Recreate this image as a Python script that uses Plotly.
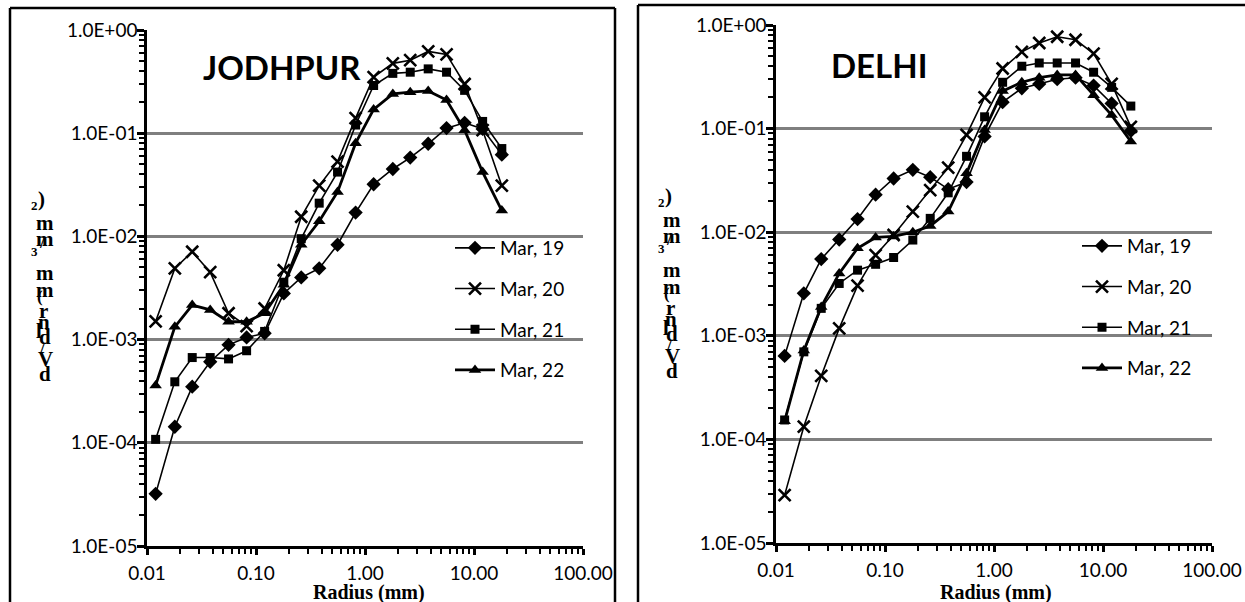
import plotly.graph_objects as go

# ---------------- data ----------------
radius = [0.012, 0.018, 0.026, 0.038, 0.056, 0.082, 0.12, 0.18, 0.26, 0.38,
          0.56, 0.82, 1.2, 1.8, 2.6, 3.8, 5.6, 8.2, 12, 18]
series_names = ["Mar, 19", "Mar, 20", "Mar, 21", "Mar, 22"]

jodhpur_mar19 = [3.2e-5, 1.43e-4, 3.5e-4, 6.1e-4, 8.9e-4, 1.05e-3, 1.15e-3, 2.8e-3, 4.0e-3, 4.9e-3,
                 8.3e-3, 1.7e-2, 3.2e-2, 4.5e-2, 5.8e-2, 7.9e-2, 0.112, 0.126, 0.11, 0.062]
jodhpur_mar20 = [1.5e-3, 4.9e-3, 7.1e-3, 4.5e-3, 1.8e-3, 1.35e-3, 2.0e-3, 4.7e-3, 1.55e-2, 3.1e-2,
                 5.3e-2, 0.14, 0.35, 0.475, 0.51, 0.62, 0.58, 0.30, 0.107, 0.031]
jodhpur_mar21 = [1.08e-4, 3.9e-4, 6.7e-4, 6.7e-4, 6.5e-4, 7.8e-4, 1.2e-3, 3.6e-3, 9.5e-3, 2.1e-2,
                 4.2e-2, 0.12, 0.29, 0.38, 0.39, 0.42, 0.39, 0.26, 0.13, 0.071]
jodhpur_mar22 = [3.6e-4, 1.33e-3, 2.16e-3, 1.94e-3, 1.49e-3, 1.49e-3, 1.8e-3, 3.4e-3, 8.3e-3, 1.4e-2,
                 2.7e-2, 8.0e-2, 0.17, 0.24, 0.25, 0.257, 0.21, 0.107, 0.042, 0.0178]

delhi_mar19 = [6.4e-4, 2.57e-3, 5.5e-3, 8.5e-3, 1.34e-2, 2.3e-2, 3.3e-2, 4.0e-2, 3.4e-2, 2.6e-2,
               3.05e-2, 8.4e-2, 0.18, 0.245, 0.27, 0.30, 0.31, 0.26, 0.175, 0.095]
delhi_mar20 = [2.9e-5, 1.33e-4, 4.1e-4, 1.18e-3, 3.05e-3, 6.0e-3, 9.4e-3, 1.58e-2, 2.55e-2, 4.2e-2,
               8.7e-2, 0.20, 0.38, 0.55, 0.67, 0.77, 0.72, 0.53, 0.27, 0.104]
delhi_mar21 = [1.54e-4, 7.0e-4, 1.84e-3, 3.2e-3, 4.3e-3, 4.9e-3, 5.7e-3, 8.4e-3, 1.36e-2, 2.4e-2,
               5.4e-2, 0.13, 0.28, 0.40, 0.43, 0.43, 0.43, 0.35, 0.25, 0.165]
delhi_mar22 = [1.5e-4, 7.2e-4, 1.9e-3, 4.0e-3, 7.0e-3, 8.9e-3, 9.1e-3, 1.0e-2, 1.15e-2, 1.58e-2,
               3.7e-2, 0.097, 0.23, 0.28, 0.31, 0.33, 0.33, 0.21, 0.135, 0.075]

y_tickvals = [1e-5, 1e-4, 1e-3, 1e-2, 1e-1, 1]
y_ticktext = ["1.0E-05", "1.0E-04", "1.0E-03", "1.0E-02", "1.0E-01", "1.0E+00"]
x_tickvals = [0.01, 0.1, 1, 10, 100]
x_ticktext = ["0.01", "0.10", "1.00", "10.00", "100.00"]

panel_titles = ["JODHPUR", "DELHI"]
x_title = "Radius (mm)"
# garbled stacked y-axis title characters (as in the source figure)
ytitle_chars = [")", "2", "m", "m", "/", "3", "m", "m", "(", "r", "n", "l", "d", "/", "V", "d"]
ytitle_dx = [41, 34, 45, 45, 42, 34, 45, 45, 40, 43, 44, 39, 45, 42, 45, 45]
ytitle_dy = [199, 205, 223, 239, 243, 251, 273, 290, 296, 311, 322, 331, 337, 348, 359, 374]
ytitle_size = [21, 13, 21, 21, 17, 13, 21, 21, 17, 21, 21, 21, 21, 17, 21, 21]

# ---------------- layout helpers ----------------
W, H = 1245, 602
def px(x):
    return x / W
def py(y):
    return 1 - y / H

styles = {
    "Mar, 19": dict(symbol="diamond", size=11, lw=1.6),
    "Mar, 20": dict(symbol="x-thin", size=12, lw=1.6),
    "Mar, 21": dict(symbol="square", size=9, lw=1.6),
    "Mar, 22": dict(symbol="triangle-up", size=11, lw=2.8),
}

fig = go.Figure()

panels = [
    ("x", "y", "legend", [jodhpur_mar19, jodhpur_mar20, jodhpur_mar21, jodhpur_mar22]),
    ("x2", "y2", "legend2", [delhi_mar19, delhi_mar20, delhi_mar21, delhi_mar22]),
]
for xa, ya, lg, data in panels:
    for name, vals in zip(series_names, data):
        st = styles[name]
        fig.add_trace(go.Scatter(
            x=radius, y=vals, name=name, mode="lines+markers",
            xaxis=xa, yaxis=ya, legend=lg, legendgroup=lg + name,
            line=dict(color="black", width=st["lw"]),
            marker=dict(symbol=st["symbol"], size=st["size"], color="black",
                        line=dict(color="black", width=2.6 if st["symbol"] == "x-thin" else 0)),
            cliponaxis=False,
        ))

tickfont = dict(family="Lato", size=19, color="black")
def yaxis_cfg(dom):
    return dict(type="log", range=[-5, 0], domain=dom, automargin=False,
                tickvals=y_tickvals, ticktext=y_ticktext, tickfont=tickfont,
                ticklabelstandoff=-4,
                showgrid=True, gridcolor="#7f7f7f", gridwidth=2.5,
                showline=True, linecolor="black", linewidth=2.5,
                ticks="outside", ticklen=7, tickwidth=2.5, tickcolor="black",
                minor=dict(ticks="outside", ticklen=5, tickwidth=2, tickcolor="black",
                           dtick="D1", showgrid=False),
                zeroline=False, fixedrange=True)

def xaxis_cfg(dom, anchor):
    return dict(type="log", range=[-2, 2], domain=dom, anchor=anchor, automargin=False,
                tickvals=x_tickvals, ticktext=x_ticktext, tickfont=tickfont,
                ticklabelstandoff=2,
                showgrid=False, showline=True, linecolor="black", linewidth=2.5,
                ticks="outside", ticklen=6, tickwidth=2.5, tickcolor="black",
                minor=dict(ticks="outside", ticklen=5, tickwidth=2, tickcolor="black",
                           dtick="D1", showgrid=False),
                zeroline=False, fixedrange=True)

legend_common = dict(font=dict(family="Lato", size=19, color="black"),
                     bgcolor="rgba(0,0,0,0)", borderwidth=0, tracegroupgap=13,
                     itemwidth=40, xanchor="left", yanchor="top")

fig.update_layout(
    template="none",
    width=W, height=H, margin=dict(l=0, r=0, t=0, b=0, autoexpand=False),
    paper_bgcolor="white", plot_bgcolor="white",
    xaxis=xaxis_cfg([px(147), px(583)], "y"),
    yaxis=yaxis_cfg([py(546), py(30)]),
    xaxis2=xaxis_cfg([px(776), px(1212)], "y2"),
    yaxis2=dict(yaxis_cfg([py(543), py(25)]), anchor="x2"),
    legend=dict(legend_common, x=px(450), y=py(229)),
    legend2=dict(legend_common, x=px(1077), y=py(227)),
    showlegend=True,
)

annotations = []
# panel titles
annotations.append(dict(x=px(282), y=py(67), xref="paper", yref="paper", text="<b>" + panel_titles[0] + "</b>",
                        showarrow=False, xanchor="center", yanchor="middle",
                        font=dict(family="Lato", size=33, color="black")))
annotations.append(dict(x=px(879), y=py(65), xref="paper", yref="paper", text="<b>" + panel_titles[1] + "</b>",
                        showarrow=False, xanchor="center", yanchor="middle",
                        font=dict(family="Lato", size=33, color="black")))
# x titles
for cx, cy in [(369, 592), (996, 592)]:
    annotations.append(dict(x=px(cx), y=py(cy), xref="paper", yref="paper", text="<b>" + x_title + "</b>",
                            showarrow=False, xanchor="center", yanchor="middle",
                            font=dict(family="Liberation Serif", size=20, color="black")))
# stacked y titles
for offx, offy in [(0, 0), (627, -3)]:
    for ch, dx, dy, sz in zip(ytitle_chars, ytitle_dx, ytitle_dy, ytitle_size):
        annotations.append(dict(x=px(dx + offx), y=py(dy + offy), xref="paper", yref="paper",
                                text="<b>" + ch + "</b>", showarrow=False,
                                xanchor="center", yanchor="middle",
                                font=dict(family="Liberation Serif", size=sz, color="black")))
fig.update_layout(annotations=annotations)

# panel frames
shapes = []
for x0, x1, y0 in [(10, 615, 8), (638, 1260, 5)]:
    shapes.append(dict(type="line", xref="paper", yref="paper", x0=px(x0), x1=px(x0), y0=py(y0), y1=py(610),
                       line=dict(color="black", width=2.5)))
    shapes.append(dict(type="line", xref="paper", yref="paper", x0=px(x0), x1=px(x1), y0=py(y0), y1=py(y0),
                       line=dict(color="black", width=2.5)))
    if x1 < W:
        shapes.append(dict(type="line", xref="paper", yref="paper", x0=px(x1), x1=px(x1), y0=py(y0), y1=py(610),
                           line=dict(color="black", width=2.5)))
fig.update_layout(shapes=shapes)

fig.write_html("out.html", config={"displayModeBar": False},
               post_script="document.body.style.margin='0px';")
